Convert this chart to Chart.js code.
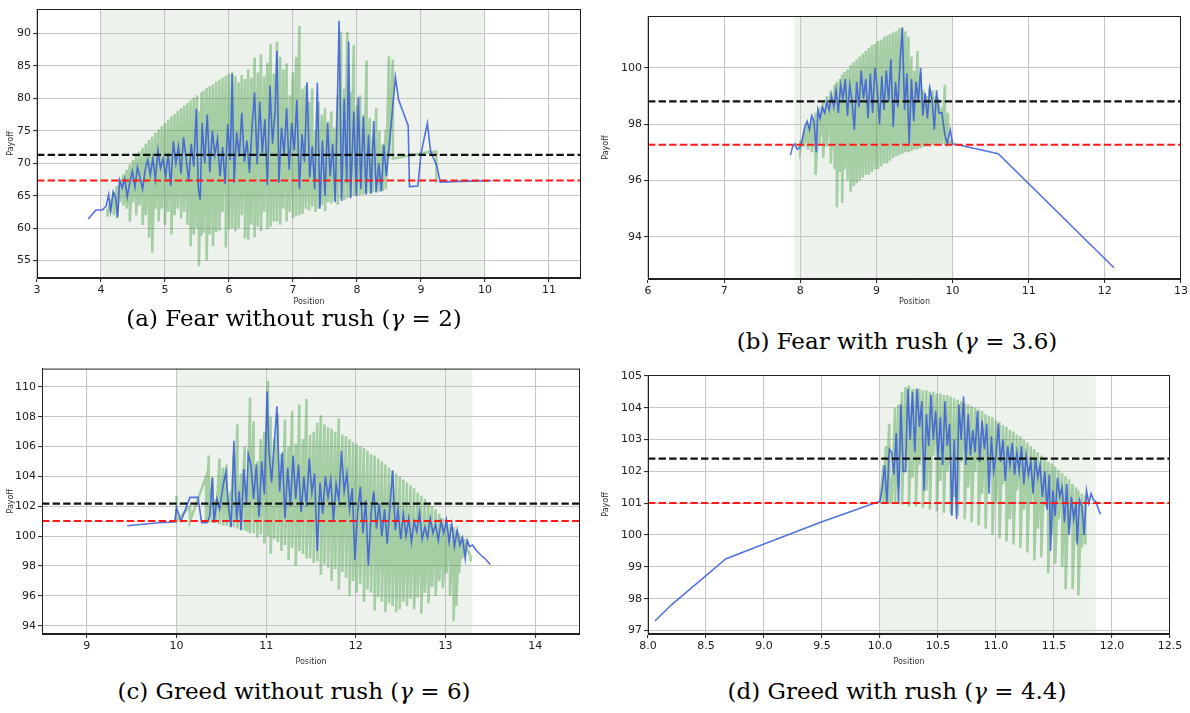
<!DOCTYPE html>
<html>
<head>
<meta charset="utf-8">
<script src="https://cdn.jsdelivr.net/npm/chart.js@4.4.0/dist/chart.umd.min.js"></script>
<style>
    body { margin: 0; width: 1190px; height: 713px; background: #fff; position: relative; overflow: hidden; }
    .panel { position: absolute; width: 595px; height: 310px; }
    .caption { position: absolute; font-family: 'DejaVu Serif', serif; font-size: 23px; line-height: 24px; color: #000; white-space: nowrap; transform: translateX(-50%); }
</style>
</head>
<body>
<div class="panel" style="left:0;top:0"><canvas id="chartA" width="595" height="310"></canvas></div>
<div class="panel" style="left:595px;top:0"><canvas id="chartB" width="595" height="310"></canvas></div>
<div class="panel" style="left:0;top:360px"><canvas id="chartC" width="595" height="310"></canvas></div>
<div class="panel" style="left:595px;top:360px"><canvas id="chartD" width="595" height="310"></canvas></div>

<div class="caption" style="left:294px;top:306px">(a) Fear without rush (<i>γ</i> = 2)</div>
<div class="caption" style="left:897px;top:329px">(b) Fear with rush (<i>γ</i> = 3.6)</div>
<div class="caption" style="left:294px;top:679px">(c) Greed without rush (<i>γ</i> = 6)</div>
<div class="caption" style="left:897px;top:679px">(d) Greed with rush (<i>γ</i> = 4.4)</div>

<script>
// ---- tick labels ----
const xTicksA = [3, 4, 5, 6, 7, 8, 9, 10, 11];
const yTicksA = [55, 60, 65, 70, 75, 80, 85, 90];
const xTicksB = [6, 7, 8, 9, 10, 11, 12, 13];
const yTicksB = [94, 96, 98, 100];
const xTicksC = [9, 10, 11, 12, 13, 14];
const yTicksC = [94, 96, 98, 100, 102, 104, 106, 108, 110];
const xTicksD = [8.0, 8.5, 9.0, 9.5, 10.0, 10.5, 11.0, 11.5, 12.0, 12.5];
const yTicksD = [97, 98, 99, 100, 101, 102, 103, 104, 105];

// dashed reference levels [black, red]
const levelsA = [71.28, 67.35];
const levelsB = [98.81, 97.27];
const levelsC = [102.18, 101.02];
const levelsD = [102.40, 101.01];

// shaded position interval
const shadeA = [4.0, 10.0];
const shadeB = [7.92, 10.0];
const shadeC = [10.0, 13.3];
const shadeD = [10.0, 11.86];

// green samples: [position, high, low]
const greenA = [
    [4.10, 63, 61.8], [4.15, 64.5, 62.5], [4.20, 65.5, 62], [4.25, 66.5, 61.5], [4.30, 67.5, 64],
    [4.35, 68.3, 63.5], [4.40, 69, 63], [4.45, 69.8, 61], [4.50, 70.5, 64], [4.55, 71.2, 62],
    [4.60, 71.8, 63.5], [4.65, 72.4, 60.5], [4.70, 73, 62], [4.75, 73.6, 58.5], [4.80, 74.1, 56.2],
    [4.85, 74.7, 63], [4.90, 75.2, 61], [4.95, 75.7, 63], [5.00, 76.2, 60.5], [5.05, 76.7, 62.5],
    [5.10, 77.2, 59], [5.15, 77.6, 62], [5.20, 78.1, 63], [5.25, 78.5, 61.5], [5.30, 78.9, 62.5],
    [5.35, 79.3, 60.5], [5.40, 79.7, 57.2], [5.45, 80.1, 59], [5.50, 80.5, 60], [5.53, 78, 54.1],
    [5.57, 80.9, 58.8], [5.60, 81.2, 59.3], [5.65, 81.6, 55], [5.70, 81.9, 59], [5.75, 82.2, 57.2],
    [5.80, 82.6, 59.4], [5.85, 82.9, 59.6], [5.90, 83.2, 62.5], [5.95, 83.5, 57], [6.00, 83.8, 59.8],
    [6.05, 84.1, 60], [6.10, 83.5, 59.5], [6.15, 82.5, 60], [6.20, 83.6, 62], [6.25, 83.0, 58.4],
    [6.30, 84.5, 58.2], [6.35, 83.2, 60.5], [6.40, 86.3, 58.6], [6.45, 84.0, 60.2], [6.50, 86.8, 59.5],
    [6.55, 83.4, 62.5], [6.60, 85.5, 59.8], [6.65, 88.4, 60.2], [6.70, 83.8, 61], [6.75, 88.8, 61],
    [6.80, 86.4, 60.5], [6.85, 84.5, 63], [6.90, 85.4, 61], [6.95, 80.5, 62.5], [7.00, 84.0, 61.5],
    [7.05, 86.4, 61.8], [7.10, 91.2, 62], [7.15, 81.5, 62.2], [7.20, 82.0, 63], [7.25, 79.5, 62.7],
    [7.30, 81.5, 63.3], [7.35, 75.0, 62.5], [7.40, 79.5, 63], [7.45, 77.5, 63.5], [7.50, 78.5, 62.6],
    [7.55, 76.5, 64], [7.60, 78.0, 63.8], [7.65, 75.5, 64.2], [7.70, 80.5, 63.6], [7.75, 90.3, 64.5],
    [7.80, 81.5, 64.3], [7.85, 90.3, 64.6], [7.90, 81.0, 64.8], [7.95, 88.2, 65.0], [8.00, 79.0, 64.9],
    [8.05, 80.5, 65.1], [8.10, 77.5, 65.2], [8.15, 85.8, 65.3], [8.20, 77.0, 65.4], [8.25, 74.0, 65.5],
    [8.30, 78.5, 65.6], [8.35, 75.0, 65.6], [8.40, 73.0, 65.7], [8.45, 75.2, 66], [8.50, 86.5, 70.8],
    [8.56, 86, 70.7], [9.15, 71.8, 71.7], [9.24, 71.8, 67]
];
const greenB = [
    [8.00, 97.4, 97.1], [8.05, 97.7, 97.2], [8.10, 98.0, 97.1], [8.15, 98.2, 97.0], [8.20, 98.4, 96.2],
    [8.25, 98.6, 97.3], [8.30, 98.8, 96.8], [8.35, 99.0, 97.2], [8.40, 99.2, 96.6], [8.45, 99.4, 96.4],
    [8.48, 99.5, 95.05], [8.52, 99.6, 96.3], [8.55, 99.75, 95.2], [8.58, 99.85, 96.4], [8.62, 99.95, 96.0],
    [8.66, 100.1, 95.6], [8.70, 100.2, 95.8], [8.74, 100.3, 95.9], [8.78, 100.4, 96.0], [8.82, 100.5, 96.1],
    [8.86, 100.6, 96.2], [8.90, 100.7, 96.2], [8.94, 100.8, 96.3], [8.98, 100.85, 96.4], [9.02, 100.95, 96.4],
    [9.06, 101.0, 96.5], [9.10, 101.1, 96.6], [9.14, 101.15, 96.6], [9.18, 101.2, 96.7], [9.22, 101.25, 96.8],
    [9.26, 101.3, 96.85], [9.30, 101.4, 96.9], [9.34, 101.45, 96.95], [9.38, 101.3, 97.0], [9.42, 101.1, 97.0],
    [9.46, 100.4, 97.05], [9.50, 99.9, 97.1], [9.54, 100.6, 97.1], [9.58, 99.8, 97.15], [9.62, 99.2, 97.2],
    [9.66, 99.0, 97.2], [9.70, 99.3, 97.2], [9.74, 99.2, 97.25], [9.78, 99.0, 97.3], [9.82, 98.9, 97.3],
    [9.86, 98.6, 97.3], [9.90, 99.4, 97.3], [9.94, 98.4, 97.3], [9.98, 97.4, 97.3]
];
const greenC = [
    [10.00, 102.7, 101.0], [10.15, 102.0, 101.0], [10.33, 104.0, 101.0], [10.36, 105.4, 100.9], [10.40, 104.0, 100.9],
    [10.44, 102.5, 100.9], [10.48, 105.2, 100.8], [10.52, 104.6, 100.7], [10.56, 104.8, 100.7], [10.60, 103.0, 100.6],
    [10.64, 105.5, 100.6], [10.68, 107.5, 100.5], [10.72, 104.2, 100.4], [10.76, 106.0, 100.4], [10.79, 103.5, 100.3],
    [10.82, 109.3, 100.2], [10.86, 107.7, 100.2], [10.90, 105.0, 99.9], [10.94, 106.5, 100.1], [10.98, 107.0, 99.5],
    [11.02, 110.4, 100.0], [11.05, 108.0, 98.8], [11.09, 106.5, 99.8], [11.13, 108.2, 99.6], [11.17, 105.5, 99.0],
    [11.21, 107.8, 99.4], [11.25, 106.0, 98.4], [11.29, 108.4, 99.2], [11.33, 106.2, 98.0], [11.37, 108.8, 99.0],
    [11.41, 106.5, 98.8], [11.45, 109.2, 98.5], [11.49, 106.8, 98.5], [11.53, 107.0, 98.2], [11.57, 107.6, 98.3],
    [11.61, 108.1, 97.4], [11.65, 107.5, 98.1], [11.69, 107.3, 97.9], [11.73, 107.2, 97.0], [11.77, 107.0, 97.8],
    [11.81, 107.9, 96.4], [11.85, 106.8, 97.6], [11.89, 106.7, 97.2], [11.93, 106.5, 96.0], [11.97, 106.3, 97.0],
    [12.01, 106.2, 96.2], [12.05, 106.0, 96.8], [12.09, 105.9, 95.6], [12.13, 105.7, 96.4], [12.17, 105.5, 96.2],
    [12.21, 105.4, 95.0], [12.25, 105.2, 95.9], [12.29, 105.0, 95.6], [12.33, 104.8, 94.9], [12.37, 104.6, 95.5],
    [12.41, 104.4, 95.3], [12.45, 104.2, 94.9], [12.49, 104.0, 95.1], [12.53, 103.8, 95.6], [12.57, 103.6, 95.3],
    [12.61, 103.4, 95.8], [12.65, 103.2, 95.1], [12.69, 102.9, 95.9], [12.73, 102.7, 94.8], [12.77, 102.5, 96.2],
    [12.81, 102.2, 95.5], [12.85, 102.0, 96.6], [12.89, 101.8, 96.0], [12.93, 101.5, 97.0], [12.97, 101.2, 96.5],
    [13.01, 101.0, 97.5], [13.05, 100.8, 96.0], [13.09, 100.6, 94.3], [13.12, 100.4, 95.3], [13.15, 100.2, 97.5],
    [13.18, 100.0, 98.5], [13.21, 99.8, 99.0], [13.24, 99.5, 99.2], [13.28, 98.6, 98.3]
];
const greenD = [
    [10.00, 101.0, 101.0], [10.03, 102.2, 101.0], [10.05, 102.8, 101.0], [10.08, 103.5, 101.0], [10.10, 101.8, 101.0],
    [10.13, 104.0, 101.0], [10.16, 104.1, 101.5], [10.19, 104.5, 100.95], [10.22, 104.65, 102.0], [10.25, 104.7, 100.9],
    [10.28, 104.6, 101.8], [10.31, 104.6, 100.9], [10.34, 104.6, 102.2], [10.37, 104.55, 100.85], [10.40, 104.55, 101.4],
    [10.43, 104.5, 100.8], [10.46, 104.5, 102.5], [10.49, 104.45, 100.75], [10.52, 104.45, 101.7], [10.55, 104.4, 100.7],
    [10.58, 104.4, 102.0], [10.61, 104.35, 100.65], [10.64, 104.3, 101.2], [10.67, 104.25, 100.6], [10.70, 104.2, 102.3],
    [10.73, 104.15, 100.5], [10.76, 104.1, 101.5], [10.79, 104.05, 100.4], [10.82, 104.0, 102.0], [10.85, 103.95, 100.3],
    [10.88, 103.9, 101.3], [10.91, 103.8, 100.2], [10.94, 103.75, 101.9], [10.97, 103.7, 100.0], [11.00, 103.6, 101.0],
    [11.03, 103.55, 99.9], [11.06, 103.45, 101.6], [11.09, 103.4, 99.8], [11.12, 103.3, 100.5], [11.15, 103.25, 99.7],
    [11.18, 103.15, 101.4], [11.21, 103.1, 99.6], [11.24, 103.0, 100.8], [11.27, 102.9, 99.45], [11.30, 102.8, 101.0],
    [11.33, 102.7, 99.2], [11.36, 102.6, 100.2], [11.39, 102.5, 99.3], [11.42, 102.4, 100.9], [11.45, 102.3, 98.8],
    [11.48, 102.25, 100.0], [11.51, 102.15, 99.1], [11.54, 102.05, 100.5], [11.57, 101.95, 99.0], [11.60, 101.85, 98.3],
    [11.63, 101.75, 100.2], [11.66, 101.6, 98.3], [11.69, 101.5, 99.8], [11.71, 101.4, 98.1], [11.74, 101.3, 99.6],
    [11.77, 101.25, 99.7]
];

// blue payoff path: [position, payoff]
const blueA = [
    [3.80, 61.4], [3.92, 62.8], [4.02, 62.8], [4.08, 63.4], [4.12, 65.2], [4.15, 62.6], [4.19, 65.6], [4.23, 64.6],
    [4.26, 61.7], [4.29, 67.4], [4.33, 66.2], [4.37, 67.6], [4.41, 64.8], [4.45, 67.0], [4.49, 68.8], [4.53, 66.3],
    [4.57, 69.4], [4.61, 67.8], [4.65, 66.0], [4.69, 69.0], [4.73, 70.5], [4.77, 68.2], [4.81, 70.8], [4.85, 67.5],
    [4.89, 72.0], [4.93, 69.2], [4.97, 70.6], [5.01, 68.0], [5.05, 71.5], [5.09, 66.5], [5.13, 73.4], [5.17, 70.0],
    [5.21, 72.6], [5.25, 68.4], [5.29, 74.0], [5.33, 70.8], [5.37, 67.2], [5.41, 73.0], [5.45, 69.5], [5.49, 78.4],
    [5.52, 66.2], [5.55, 64.4], [5.58, 76.2], [5.62, 70.0], [5.66, 77.5], [5.70, 68.6], [5.74, 75.0], [5.78, 71.2],
    [5.82, 73.8], [5.86, 68.0], [5.90, 72.5], [5.94, 66.8], [5.98, 76.0], [6.02, 70.5], [6.05, 83.8], [6.08, 67.0],
    [6.12, 74.8], [6.16, 71.0], [6.20, 77.8], [6.24, 70.2], [6.28, 73.5], [6.32, 68.5], [6.36, 75.6], [6.40, 80.9],
    [6.44, 69.8], [6.48, 79.5], [6.52, 71.5], [6.56, 76.8], [6.60, 66.6], [6.64, 82.0], [6.68, 73.0], [6.72, 78.0],
    [6.75, 87.3], [6.78, 67.0], [6.82, 75.5], [6.86, 71.4], [6.90, 78.5], [6.94, 69.0], [6.98, 76.2], [7.02, 72.0],
    [7.06, 79.8], [7.10, 66.0], [7.14, 74.5], [7.18, 70.2], [7.22, 82.5], [7.26, 67.8], [7.30, 72.6], [7.34, 66.0],
    [7.38, 82.4], [7.42, 63.0], [7.46, 73.5], [7.50, 65.0], [7.54, 76.2], [7.58, 68.0], [7.62, 73.0], [7.66, 64.0],
    [7.72, 92.0], [7.76, 64.2], [7.80, 80.0], [7.84, 67.0], [7.87, 88.8], [7.90, 64.6], [7.95, 78.0], [7.99, 65.0],
    [8.02, 80.2], [8.06, 66.0], [8.10, 77.2], [8.14, 65.2], [8.18, 74.4], [8.22, 65.3], [8.26, 76.5], [8.30, 65.5],
    [8.34, 70.0], [8.38, 65.7], [8.42, 72.8], [8.46, 68.0], [8.60, 83.3], [8.65, 79.8], [8.80, 75.8], [8.82, 66.4],
    [8.95, 66.5], [9.00, 71.5], [9.10, 76.2], [9.15, 71.8], [9.25, 69.5], [9.30, 67.1], [9.60, 67.2], [10.10, 67.3]
];
const blueB = [
    [7.87, 96.9], [7.90, 97.2], [7.93, 97.3], [7.96, 97.1], [8.00, 97.2], [8.03, 97.5], [8.06, 97.9], [8.09, 98.1],
    [8.12, 97.8], [8.15, 98.3], [8.18, 98.1], [8.21, 97.0], [8.23, 98.5], [8.26, 98.2], [8.29, 98.6], [8.32, 98.4],
    [8.35, 98.8], [8.38, 98.5], [8.41, 99.0], [8.44, 98.6], [8.47, 99.2], [8.50, 98.4], [8.53, 99.4], [8.56, 98.9],
    [8.59, 99.6], [8.62, 98.3], [8.65, 99.4], [8.68, 98.8], [8.71, 97.8], [8.74, 99.5], [8.77, 98.6], [8.80, 99.9],
    [8.83, 98.9], [8.86, 99.6], [8.89, 98.2], [8.92, 99.8], [8.95, 98.4], [8.98, 100.0], [9.01, 99.3], [9.04, 98.0],
    [9.07, 99.7], [9.10, 98.5], [9.13, 99.9], [9.16, 98.8], [9.19, 100.3], [9.22, 97.9], [9.25, 99.5], [9.28, 98.6],
    [9.31, 100.2], [9.34, 101.4], [9.37, 98.5], [9.40, 99.8], [9.43, 97.3], [9.46, 99.6], [9.49, 98.1], [9.52, 99.5],
    [9.55, 98.8], [9.58, 100.0], [9.61, 98.3], [9.64, 99.1], [9.67, 98.2], [9.70, 99.3], [9.73, 98.9], [9.76, 97.8],
    [9.79, 99.2], [9.82, 98.4], [9.86, 98.4], [9.90, 97.6], [9.93, 97.3], [9.97, 97.8], [10.00, 97.3], [10.10, 97.25],
    [10.60, 96.95], [12.12, 92.9]
];
const blueC = [
    [9.45, 100.7], [9.80, 100.9], [9.98, 100.95], [10.00, 101.9], [10.05, 101.0], [10.15, 102.6], [10.24, 102.6], [10.28, 100.9],
    [10.34, 100.9], [10.37, 101.3], [10.40, 103.9], [10.42, 100.9], [10.45, 102.5], [10.48, 101.8], [10.52, 103.4], [10.55, 104.3],
    [10.58, 102.0], [10.61, 100.6], [10.64, 106.4], [10.67, 101.0], [10.70, 103.0], [10.72, 100.4], [10.75, 104.5], [10.78, 102.2],
    [10.80, 105.5], [10.83, 104.8], [10.86, 102.5], [10.89, 104.8], [10.92, 101.3], [10.95, 105.0], [10.98, 102.8], [11.01, 109.7],
    [11.03, 105.8], [11.06, 103.6], [11.09, 106.2], [11.12, 108.7], [11.15, 103.0], [11.18, 105.6], [11.21, 101.2], [11.24, 104.6],
    [11.27, 102.0], [11.30, 105.4], [11.33, 102.5], [11.36, 104.8], [11.39, 101.6], [11.42, 104.0], [11.45, 102.0], [11.48, 105.2],
    [11.51, 102.9], [11.54, 104.2], [11.57, 99.0], [11.60, 103.6], [11.63, 101.5], [11.66, 104.0], [11.69, 102.6], [11.72, 103.8],
    [11.75, 101.0], [11.78, 103.5], [11.81, 102.4], [11.84, 105.7], [11.87, 103.0], [11.90, 104.2], [11.93, 101.8], [11.96, 103.2],
    [11.99, 98.4], [12.02, 101.6], [12.05, 103.3], [12.08, 100.2], [12.11, 102.4], [12.14, 98.0], [12.17, 101.5], [12.20, 103.0],
    [12.23, 100.5], [12.26, 102.2], [12.29, 100.0], [12.32, 101.8], [12.35, 99.5], [12.38, 102.0], [12.41, 104.4], [12.44, 100.4],
    [12.47, 101.8], [12.50, 99.8], [12.53, 101.5], [12.56, 100.0], [12.59, 101.2], [12.62, 99.6], [12.65, 101.0], [12.68, 100.3],
    [12.71, 101.6], [12.74, 99.8], [12.77, 100.6], [12.80, 99.9], [12.83, 101.2], [12.86, 100.2], [12.89, 100.8], [12.92, 99.7],
    [12.95, 101.0], [12.98, 100.2], [13.01, 101.1], [13.04, 99.6], [13.07, 100.8], [13.10, 99.3], [13.13, 100.4], [13.16, 99.4],
    [13.19, 99.9], [13.22, 98.5], [13.24, 99.7], [13.27, 99.3], [13.30, 99.4], [13.35, 99.0], [13.40, 98.7], [13.44, 98.5],
    [13.50, 98.1]
];
const blueD = [
    [8.06, 97.3], [8.20, 97.8], [8.67, 99.25], [9.00, 99.72], [9.50, 100.42], [9.95, 101.0], [10.00, 101.05], [10.02, 101.5],
    [10.04, 102.2], [10.06, 101.0], [10.08, 102.7], [10.10, 102.6], [10.12, 101.9], [10.14, 103.2], [10.16, 101.0], [10.18, 104.1],
    [10.20, 102.0], [10.22, 102.0], [10.24, 104.6], [10.26, 103.0], [10.28, 104.5], [10.30, 102.6], [10.32, 104.6], [10.34, 103.4],
    [10.36, 104.2], [10.38, 101.4], [10.40, 103.8], [10.42, 102.8], [10.44, 104.4], [10.46, 103.0], [10.48, 103.9], [10.50, 102.4],
    [10.52, 103.7], [10.54, 102.2], [10.56, 104.2], [10.58, 102.8], [10.60, 103.5], [10.62, 100.6], [10.64, 103.0], [10.66, 100.5],
    [10.68, 104.1], [10.70, 103.0], [10.72, 104.35], [10.74, 102.2], [10.76, 103.8], [10.78, 102.5], [10.80, 103.3], [10.82, 102.6],
    [10.84, 103.9], [10.86, 102.3], [10.88, 103.6], [10.90, 102.7], [10.92, 103.5], [10.94, 101.3], [10.96, 103.1], [10.98, 102.0],
    [11.00, 102.5], [11.02, 103.5], [11.04, 102.3], [11.06, 103.0], [11.08, 101.7], [11.10, 102.8], [11.12, 102.2], [11.14, 102.9],
    [11.16, 101.9], [11.18, 102.6], [11.20, 102.0], [11.22, 102.8], [11.24, 101.6], [11.26, 102.5], [11.28, 101.9], [11.30, 102.3],
    [11.32, 101.3], [11.34, 102.4], [11.36, 101.8], [11.38, 102.2], [11.40, 101.2], [11.42, 102.0], [11.44, 100.8], [11.46, 101.9],
    [11.47, 99.5], [11.49, 101.4], [11.51, 100.6], [11.53, 101.8], [11.55, 101.2], [11.57, 101.5], [11.59, 100.4], [11.61, 101.6],
    [11.63, 100.0], [11.65, 101.2], [11.67, 100.5], [11.69, 101.0], [11.70, 99.7], [11.72, 101.1], [11.74, 100.9], [11.76, 100.0],
    [11.78, 101.4], [11.80, 101.0], [11.82, 101.3], [11.84, 101.1], [11.86, 101.05], [11.90, 100.65]
];

const tickFont = { family: 'DejaVu Sans', size: 11 };
const labelFont = { family: 'DejaVu Sans', size: 8 };

// draws the shaded interval behind the grid and the full box frame on top
const panelDecor = {
    id: 'panelDecor',
    beforeDraw(chart, args, opts) {
        const { ctx, chartArea, scales } = chart;
        const x1 = scales.x.getPixelForValue(opts.shade[0]);
        const x2 = scales.x.getPixelForValue(opts.shade[1]);
        ctx.save();
        ctx.fillStyle = '#edf3ec';
        ctx.fillRect(x1, chartArea.top, x2 - x1, chartArea.bottom - chartArea.top);
        ctx.restore();
    },
    afterDraw(chart) {
        const { ctx, chartArea } = chart;
        ctx.save();
        ctx.strokeStyle = '#222';
        ctx.lineWidth = 1;
        ctx.strokeRect(chartArea.left + 0.5, chartArea.top + 0.5, chartArea.right - chartArea.left - 1, chartArea.bottom - chartArea.top - 1);
        ctx.restore();
    }
};

function makePanel(id, area, xRange, yRange, xTicks, yTicks, shade, levels, green, blue, xFmt) {
    const ctx = document.getElementById(id).getContext('2d');
    const H = 310, W = 595;

    // green line jumps between the high and low value at each position
    const greenPts = [];
    green.forEach(g => {
        greenPts.push({ x: g[0], y: g[1] });
        greenPts.push({ x: g[0], y: g[2] });
    });
    const bluePts = blue.map(b => ({ x: b[0], y: b[1] }));
    const levelLine = v => [{ x: xRange[0], y: v }, { x: xRange[1], y: v }];

    return new Chart(ctx, {
        type: 'line',
        data: {
            datasets: [
                { data: levelLine(levels[0]), borderColor: '#111', borderWidth: 2.2, borderDash: [7.4, 3.2] },
                { data: levelLine(levels[1]), borderColor: '#ff1a1a', borderWidth: 2, borderDash: [7.4, 3.2] },
                { data: bluePts, borderColor: 'rgba(55,90,215,0.85)', borderWidth: 1.6 },
                { data: greenPts, borderColor: 'rgba(20,130,20,0.33)', borderWidth: 2.6 }
            ]
        },
        options: {
            responsive: false,
            animation: false,
            devicePixelRatio: 1,
            layout: { padding: { top: area.t, right: W - area.r, left: 0, bottom: 0 } },
            elements: { point: { radius: 0 }, line: { tension: 0, fill: false } },
            plugins: {
                legend: { display: false },
                tooltip: { enabled: false },
                panelDecor: { shade: shade }
            },
            scales: {
                x: {
                    type: 'linear',
                    min: xRange[0],
                    max: xRange[1],
                    afterBuildTicks: s => { s.ticks = xTicks.map(v => ({ value: v })); },
                    afterFit: s => { s.height = H - area.b; },
                    grid: { color: '#c6c6c6', lineWidth: 1.1, tickLength: 4, tickColor: '#333' },
                    border: { color: '#222', width: 1 },
                    ticks: { autoSkip: false, maxRotation: 0, padding: 2, color: '#222', font: tickFont, callback: xFmt },
                    title: { display: true, text: 'Position', color: '#333', font: labelFont, padding: { top: 0, bottom: 3 } }
                },
                y: {
                    type: 'linear',
                    min: yRange[0],
                    max: yRange[1],
                    afterBuildTicks: s => { s.ticks = yTicks.map(v => ({ value: v })); },
                    afterFit: s => { s.width = area.l; },
                    grid: { color: '#c6c6c6', lineWidth: 1.1, tickLength: 4, tickColor: '#333' },
                    border: { color: '#222', width: 1 },
                    ticks: { autoSkip: false, padding: 2, color: '#222', font: tickFont },
                    title: { display: true, text: 'Payoff', color: '#333', font: labelFont, padding: { top: 6, bottom: 0 } }
                }
            }
        },
        plugins: [panelDecor]
    });
}

const plainFmt = v => String(v);
const oneDecFmt = v => v.toFixed(1);

makePanel('chartA', { l: 37, t: 9, r: 581, b: 278 }, [3, 11.5], [52.3, 93.8], xTicksA, yTicksA, shadeA, levelsA, greenA, blueA, plainFmt);
makePanel('chartB', { l: 53, t: 16, r: 586, b: 279 }, [6, 13], [92.5, 101.84], xTicksB, yTicksB, shadeB, levelsB, greenB, blueB, plainFmt);
makePanel('chartC', { l: 42, t: 8, r: 580, b: 274 }, [8.5, 14.5], [93.44, 111.23], xTicksC, yTicksC, shadeC, levelsC, greenC, blueC, plainFmt);
makePanel('chartD', { l: 53, t: 15, r: 575, b: 274 }, [8, 12.5], [96.89, 105.03], xTicksD, yTicksD, shadeD, levelsD, greenD, blueD, oneDecFmt);
</script>
</body>
</html>
